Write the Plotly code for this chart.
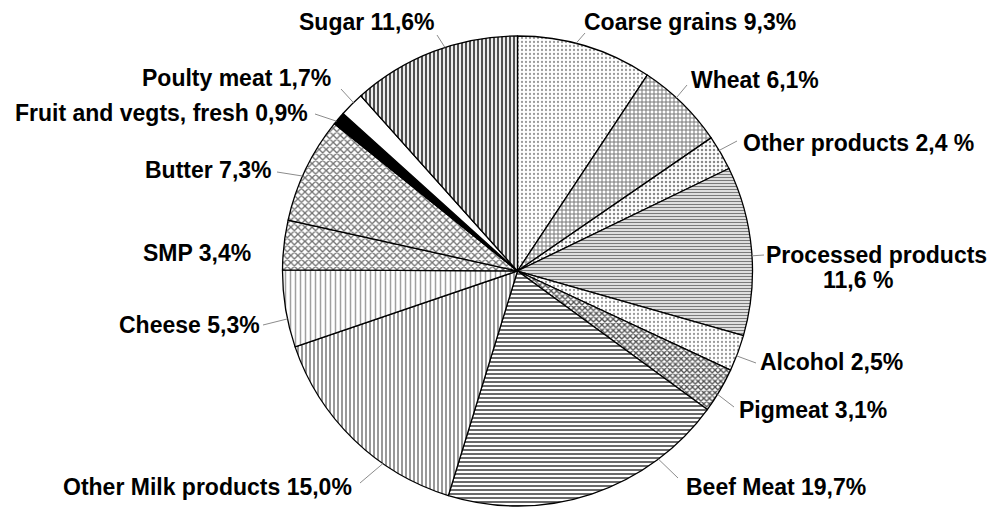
import math
import plotly.graph_objects as go

categories = ["Coarse grains", "Wheat", "Other products", "Processed products", "Alcohol",
              "Pigmeat", "Beef Meat", "Other Milk products", "Cheese", "SMP", "Butter",
              "Fruit and vegts, fresh", "Poulty meat", "Sugar"]
values = [9.3, 6.1, 2.4, 11.6, 2.5, 3.1, 19.7, 15.0, 5.3, 3.4, 7.3, 0.9, 1.7, 11.6]
label_texts = ["Coarse grains 9,3%", "Wheat 6,1%", "Other products 2,4 %",
               "Processed products<br>11,6 %", "Alcohol 2,5%", "Pigmeat 3,1%",
               "Beef Meat 19,7%", "Other Milk products 15,0%", "Cheese 5,3%", "SMP 3,4%",
               "Butter 7,3%", "Fruit and vegts, fresh 0,9%", "Poulty meat 1,7%", "Sugar 11,6%"]

# ---- styling ----
shapes_ = [".", "+", ".", "-", ".", "x", "-", "|", "|", "x", "x", "", "", "|"]
fg = ["#9a9a9a", "#7a7a7a", "#8a8a8a", "#7a7a7a", "#9a9a9a", "#505050", "#6a6a6a",
      "#8e8e8e", "#a0a0a0", "#707070", "#707070", "#000000", "#ffffff", "#505050"]
bg = ["#ffffff"] * 14
psize = [4, 4, 4, 3, 4, 4, 4, 4, 5, 5, 5, 4, 4, 4]
psol = [0.25, 0.45, 0.3, 0.5, 0.25, 0.55, 0.5, 0.45, 0.3, 0.45, 0.45, 0.3, 0.3, 0.55]
colors = ["#ffffff"] * 11 + ["#000000", "#ffffff", "#ffffff"]

# page has an 8px body margin; coordinates below are window pixels
OFF = 8
W, H = 997 - OFF, 508 - OFF
cx, cy, R = 517.5 - OFF, 271 - OFF, 235

# label line centres (window px) per category, one per text line
label_pos = [[(690, 22)], [(755, 80)], [(858, 143)], [(876, 255), (858, 280)],
             [(831, 362)], [(813, 410)], [(776, 487)], [(207, 487)], [(189, 325)],
             [(197, 253)], [(208, 170)], [(161, 113)], [(236, 78)], [(367, 22)]]
# leader line: start point near label (window px) and where along the slice it meets the rim
leader_start = [(585, 33), (687, 85), (737, 141), (764, 255), (756, 363), (734, 407),
                (678, 478), (360, 483), (263, 325), None, (277, 172), (315, 114),
                (341, 89), (437, 35)]
leader_frac = [0.43, 0.41, 0.42, 0.53, 0.58, 0.6, 0.24, 0.33, 0.37, 0.5, 0.43, 0.24,
               0.6, 0.57]

fig = go.Figure(go.Pie(
    labels=categories, values=values, sort=False, direction="clockwise", rotation=0,
    textinfo="none", hoverinfo="label+percent", showlegend=False,
    marker=dict(colors=colors, line=dict(color="#000000", width=1.3),
                pattern=dict(shape=shapes_, fgcolor=fg, bgcolor=bg, size=psize,
                             solidity=psol, fillmode="replace")),
    domain=dict(x=[(cx - R) / W, (cx + R) / W], y=[(H - cy - R) / H, (H - cy + R) / H]),
))

def px2paper(x, y):
    return (x - OFF) / W, 1 - (y - OFF) / H

font = dict(family="Liberation Sans, Arial, sans-serif", size=23, color="#000000")
total = sum(values)
cum = 0
annotations = []
shapes = []
for v, txt, lines_pos, ls, fr in zip(values, label_texts, label_pos, leader_start, leader_frac):
    ang = (cum + v * fr) / total * 2 * math.pi
    cum += v
    for line, (lx, ly) in zip(txt.split("<br>"), lines_pos):
        x, y = px2paper(lx, ly)
        annotations.append(dict(x=x, y=y, xref="paper", yref="paper", showarrow=False,
                                text="<b>" + line + "</b>", font=font,
                                xanchor="center", yanchor="middle"))
    if ls is not None:
        ex = cx + R * math.sin(ang)
        ey = cy - R * math.cos(ang)
        x0, y0 = px2paper(*ls)
        shapes.append(dict(type="line", xref="paper", yref="paper",
                           x0=x0, y0=y0, x1=ex / W, y1=1 - ey / H,
                           line=dict(color="#8c8c8c", width=1)))

fig.update_layout(
    width=W, height=H, margin=dict(l=0, r=0, t=0, b=0),
    paper_bgcolor="#ffffff", plot_bgcolor="#ffffff",
    annotations=annotations, shapes=shapes,
)
fig.write_html("out.html")
